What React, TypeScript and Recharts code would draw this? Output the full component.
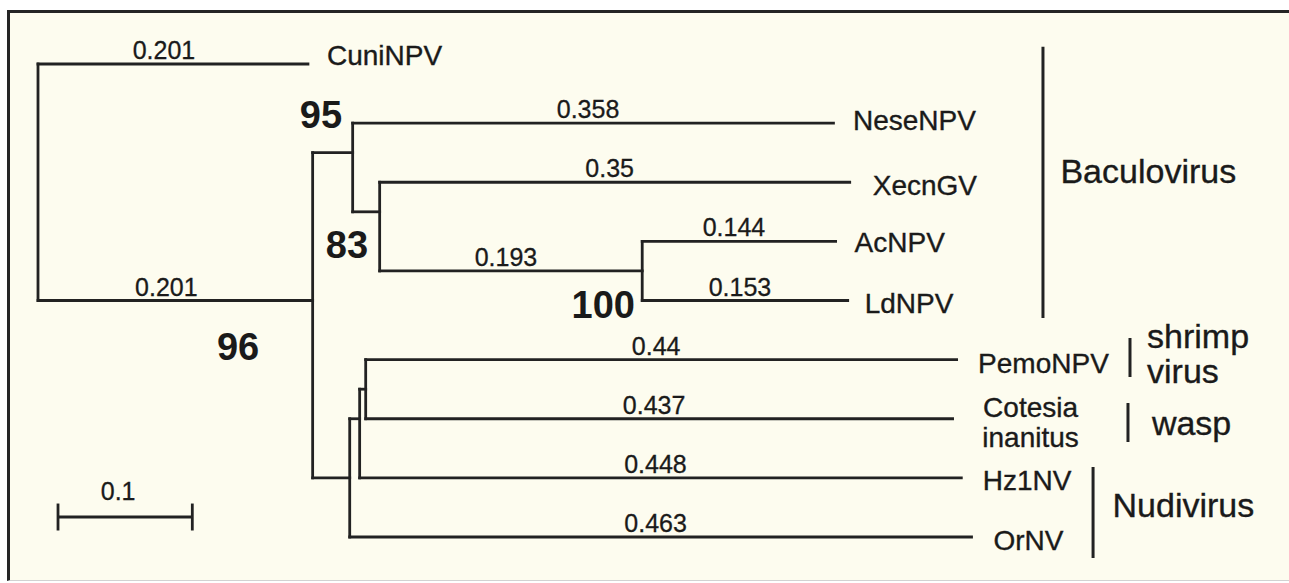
import React from 'react';
import { ComposedChart, XAxis, YAxis, ReferenceLine, Scatter } from 'recharts';

// ---------------- DATA ----------------
// Tree nodes (parents listed before children)
const nodeIds = ['root', 'CuniNPV', 'n96', 'n95', 'NeseNPV', 'n83', 'XecnGV', 'n100', 'AcNPV', 'LdNPV', 'nNudi', 'nHz', 'nPC', 'PemoNPV', 'Cotesia inanitus', 'Hz1NV', 'OrNV'];
const nodeParents = ['', 'root', 'root', 'n96', 'n95', 'n95', 'n83', 'n83', 'n100', 'n100', 'n96', 'nNudi', 'nHz', 'nPC', 'nPC', 'nHz', 'nNudi'];
// drawn branch lengths (substitutions / site)
const branchLengths = [0, 0.201, 0.2045, 0.0298, 0.358, 0.0201, 0.35, 0.1955, 0.144, 0.153, 0.0276, 0.0074, 0.0045, 0.44, 0.437, 0.448, 0.463];
// vertical position of each node (leaf row units)
const nodeRows = [2, 0, 4, 1.5, 1, 2.5, 2, 3.5, 3, 4, 7, 6, 5.5, 5, 6, 7, 8];
// printed branch-length labels
const branchLabels = ['', '0.201', '0.201', '', '0.358', '', '0.35', '0.193', '0.144', '0.153', '', '', '', '0.44', '0.437', '0.448', '0.463'];

const leafNames = ['CuniNPV', 'NeseNPV', 'XecnGV', 'AcNPV', 'LdNPV', 'PemoNPV', 'Cotesia inanitus', 'Hz1NV', 'OrNV'];

const bootstrapNodes = ['n95', 'n83', 'n100', 'n96'];
const bootstrapValues = [95, 83, 100, 96];

const groupNames = ['Baculovirus', 'shrimp virus', 'wasp', 'Nudivirus'];
const groupBarX = [0.7483, 0.8131, 0.8116, 0.7856];
const groupBarFrom = [-0.29, 4.634, 5.734, 6.816];
const groupBarTo = [4.296, 5.294, 6.393, 8.355];
const groupLabelX = [0.7613, 0.8258, 0.8294, 0.8001];
const groupLabelRow = [2.013, 4.803, 6.275, 7.662];

const scaleBarStart = 0.0149;
const scaleBarLength = 0.1;
const scaleBarRow = 7.662;
const scaleBarLabel = '0.1';

// ---------------- LAYOUT / STYLE ----------------
const W = 1289;
const H = 583;
const PX_PER_UNIT = 1343;
const ROOT_PX = 38;
const ROW0_PX = 64;
const ROW_PX = 59.125;
const X_DOMAIN: [number, number] = [-ROOT_PX / PX_PER_UNIT, (W - ROOT_PX) / PX_PER_UNIT];
const Y_DOMAIN: [number, number] = [-ROW0_PX / ROW_PX, (H - ROW0_PX) / ROW_PX];

const INK = '#1a1a1a';
const LINE = '#222222';
const CREAM = '#fdfcef';
const FONT = '"Liberation Sans", Arial, Helvetica, sans-serif';

const leafLabelDx = [19, 19.5, 23, 19, 17, 21.5, 78, 21.5, 22];
const leafLabelDy = [1, 7, 13, 10.5, 12.5, 13.5, -1.75, 12, 13];
const LEAF_LINE_GAP = 30;
const GROUP_LINE_GAP = 35;
const bootstrapDx = [-31.7, -32.7, -39, -74.6];
const bootstrapDy = [-24.7, 46, 47, 59.5];
const rootBranchLabelDx = -9;
const branchLabelDx = -5;

// ---------------- BUILD ----------------
const idx = (id: string) => nodeIds.indexOf(id);
const nodeX: number[] = [];
nodeIds.forEach((id, i) => {
  const p = nodeParents[i];
  nodeX[i] = p ? nodeX[idx(p)] + branchLengths[i] : 0;
});

type Seg = { x1: number; y1: number; x2: number; y2: number };
const branchSegs: Seg[] = [];
nodeIds.forEach((id, i) => {
  const p = nodeParents[i];
  if (!p) return;
  const pi = idx(p);
  branchSegs.push({ x1: nodeX[pi], y1: nodeRows[i], x2: nodeX[i], y2: nodeRows[i] });
});
nodeIds.forEach((id, i) => {
  const kids = nodeIds.map((_, j) => j).filter((j) => nodeParents[j] === id);
  if (!kids.length) return;
  const rows = kids.map((k) => nodeRows[k]);
  branchSegs.push({ x1: nodeX[i], y1: Math.min(...rows), x2: nodeX[i], y2: Math.max(...rows) });
});

const groupSegs: Seg[] = groupNames.map((_, g) => ({ x1: groupBarX[g], y1: groupBarFrom[g], x2: groupBarX[g], y2: groupBarTo[g] }));

const scaleSegs: Seg[] = [
  { x1: scaleBarStart, y1: scaleBarRow, x2: scaleBarStart + scaleBarLength, y2: scaleBarRow },
  { x1: scaleBarStart, y1: scaleBarRow - 0.228, x2: scaleBarStart, y2: scaleBarRow + 0.228 },
  { x1: scaleBarStart + scaleBarLength, y1: scaleBarRow - 0.228, x2: scaleBarStart + scaleBarLength, y2: scaleBarRow + 0.228 },
];

type TP = { x: number; y: number; text: string; dx: number; dy: number; anchor: string };

const leafPoints: TP[] = [];
leafNames.forEach((name, l) => {
  const i = idx(name);
  const lines = name.split(' ');
  lines.forEach((t, k) => {
    leafPoints.push({
      x: nodeX[i],
      y: nodeRows[i],
      text: t,
      dx: leafLabelDx[l],
      dy: leafLabelDy[l] + k * LEAF_LINE_GAP,
      anchor: lines.length > 1 ? 'middle' : 'start',
    });
  });
});

const branchPoints: TP[] = [];
nodeIds.forEach((id, i) => {
  if (!branchLabels[i]) return;
  const p = nodeParents[i];
  const pi = idx(p);
  branchPoints.push({
    x: (nodeX[pi] + nodeX[i]) / 2,
    y: nodeRows[i],
    text: branchLabels[i],
    dx: p === 'root' ? rootBranchLabelDx : branchLabelDx,
    dy: -5,
    anchor: 'middle',
  });
});
branchPoints.push({ x: scaleBarStart + scaleBarLength / 2, y: scaleBarRow, text: scaleBarLabel, dx: -7, dy: -17, anchor: 'middle' });

const bootPoints: TP[] = bootstrapNodes.map((n, b) => {
  const i = idx(n);
  return { x: nodeX[i], y: nodeRows[i], text: String(bootstrapValues[b]), dx: bootstrapDx[b], dy: bootstrapDy[b], anchor: 'middle' };
});

const groupPoints: TP[] = [];
groupNames.forEach((name, g) => {
  const lines = g === 1 ? name.split(' ') : [name];
  lines.forEach((t, k) => {
    groupPoints.push({ x: groupLabelX[g], y: groupLabelRow[g], text: t, dx: 0, dy: k * GROUP_LINE_GAP, anchor: 'start' });
  });
});

const textShape = (fontSize: number, fontWeight: number | string, halo: number) => (props: any) => {
  const { cx, cy, payload } = props;
  return (
    <text
      x={cx + payload.dx}
      y={cy + payload.dy}
      textAnchor={payload.anchor}
      fontFamily={FONT}
      fontSize={fontSize}
      fontWeight={fontWeight}
      fill={INK}
      stroke={INK}
      strokeWidth={halo}
    >
      {payload.text}
    </text>
  );
};

export default function App() {
  return (
    <div style={{ position: 'absolute', left: 0, top: 0, width: W, height: H, background: '#ffffff', overflow: 'hidden' }}>
      <div
        style={{
          position: 'absolute',
          left: 7,
          top: 10,
          right: -20,
          bottom: 2,
          background: CREAM,
          borderTop: '3.5px solid #252525',
          borderLeft: '3.5px solid #252525',
          borderBottom: '1px solid #d2d2d2',
        }}
      />
      <div style={{ position: 'absolute', left: 0, top: 0 }}>
        <ComposedChart width={W} height={H} margin={{ top: 0, right: 0, bottom: 0, left: 0 }}>
          <XAxis type="number" dataKey="x" domain={X_DOMAIN} allowDataOverflow hide />
          <YAxis type="number" dataKey="y" domain={Y_DOMAIN} allowDataOverflow reversed hide />
          {branchSegs.map((s, i) => (
            <ReferenceLine
              key={'b' + i}
              segment={[{ x: s.x1, y: s.y1 }, { x: s.x2, y: s.y2 }]}
              stroke={LINE}
              strokeWidth={2.8}
              strokeLinecap="square"
              ifOverflow="visible"
            />
          ))}
          {groupSegs.map((s, i) => (
            <ReferenceLine
              key={'g' + i}
              segment={[{ x: s.x1, y: s.y1 }, { x: s.x2, y: s.y2 }]}
              stroke={LINE}
              strokeWidth={3}
              ifOverflow="visible"
            />
          ))}
          {scaleSegs.map((s, i) => (
            <ReferenceLine
              key={'s' + i}
              segment={[{ x: s.x1, y: s.y1 }, { x: s.x2, y: s.y2 }]}
              stroke={LINE}
              strokeWidth={2.8}
              ifOverflow="visible"
            />
          ))}
          <Scatter data={leafPoints} isAnimationActive={false} shape={textShape(28, 'normal', 0.35)} />
          <Scatter data={branchPoints} isAnimationActive={false} shape={textShape(25, 'normal', 0.3)} />
          <Scatter data={bootPoints} isAnimationActive={false} shape={textShape(38, 'bold', 0)} />
          <Scatter data={groupPoints} isAnimationActive={false} shape={textShape(34, 'normal', 0.35)} />
        </ComposedChart>
      </div>
    </div>
  );
}
